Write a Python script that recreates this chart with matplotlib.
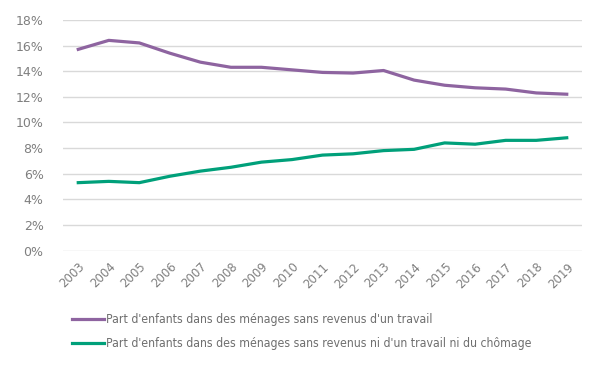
import numpy as np
import matplotlib.pyplot as plt
from matplotlib.ticker import PercentFormatter

years = [str(y) for y in range(2003, 2020)]
sans_travail = [15.7, 16.4, 16.2, 15.4, 14.7, 14.3, 14.3, 14.1, 13.9, 13.85,
                14.05, 13.3, 12.9, 12.7, 12.6, 12.3, 12.2]
sans_travail_chomage = [5.3, 5.4, 5.3, 5.8, 6.2, 6.5, 6.9, 7.1, 7.45, 7.55,
                        7.8, 7.9, 8.4, 8.3, 8.6, 8.6, 8.8]
labels = ["Part d'enfants dans des ménages sans revenus d'un travail",
          "Part d'enfants dans des ménages sans revenus ni d'un travail ni du chômage"]

plt.rcParams['font.family'] = ['DejaVu Sans']

fig = plt.figure(figsize=(6, 3.82), dpi=100)
ax = fig.add_axes([0.105, 0.344, 0.865, 0.604])

x = np.arange(len(years))
ax.plot(x, sans_travail, color='#8e64a0', lw=2.3, label=labels[0])
ax.plot(x, sans_travail_chomage, color='#00a07a', lw=2.3, label=labels[1])

ax.set_ylim(0, 18)
ax.set_yticks(range(0, 19, 2))
ax.yaxis.set_major_formatter(PercentFormatter(decimals=0))
ax.set_xlim(-0.5, len(years) - 0.5)
ax.set_xticks(x)
ax.set_xticklabels(years, rotation=45, ha='right', rotation_mode='anchor')
ax.grid(axis='y', color='#d9d9d9', lw=1)
ax.set_axisbelow(True)
for s in ax.spines.values():
    s.set_visible(False)
ax.tick_params(length=0, labelcolor='#7f7f7f')
ax.tick_params(axis='y', labelsize=9, pad=14)
ax.tick_params(axis='x', labelsize=8.5, pad=7)

leg = ax.legend(loc='upper left', bbox_to_anchor=(4 / 519, -0.25),
                frameon=False, handlelength=2.6, handletextpad=0.15,
                labelcolor='#6f6f6f', labelspacing=0.9, borderaxespad=0,
                prop={'size': 8.8, 'stretch': 'condensed'})

fig.savefig("out.png")
